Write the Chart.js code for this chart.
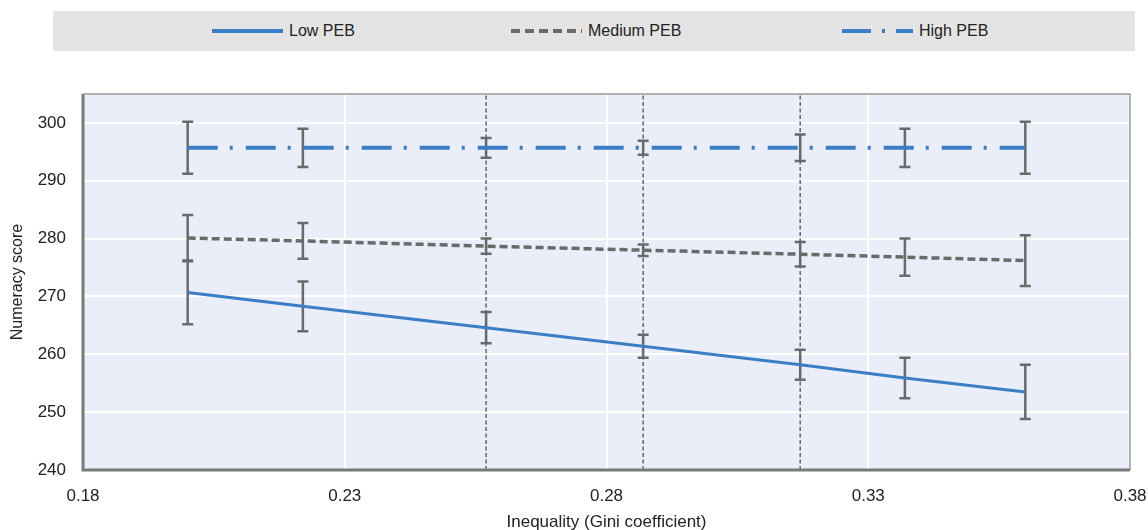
<!DOCTYPE html>
<html>
<head>
<meta charset="utf-8">
<script src="https://cdn.jsdelivr.net/npm/chart.js@4.4.1/dist/chart.umd.min.js"></script>
<style>
  html, body { margin: 0; padding: 0; background: #fff; }
  #wrap { position: relative; width: 1148px; height: 530px; }
  #legend {
    position: absolute; left: 53px; top: 11px; width: 1082px; height: 40px;
    background: #e4e4e4;
    font-family: 'Liberation Sans', Arial, sans-serif;
    font-size: 16px; color: #222;
  }
  .item { position: absolute; top: 0; height: 40px; display: flex; align-items: center; }
  .item svg { margin-right: 6px; }
  canvas { position: absolute; left: 0; top: 0; }
</style>
</head>
<body>
<div id="wrap">
  <div id="legend"></div>
  <canvas id="chart" width="1148" height="530"></canvas>
</div>
<script>
/* ── Numeracy score vs inequality, by parental education background ── */

const FONT = "'Liberation Sans', Arial, sans-serif";

const giniX = [0.200, 0.222, 0.257, 0.287, 0.317, 0.337, 0.360];
const cutoffX = [0.257, 0.287, 0.317];

const lowPEB = [270.7, 268.3, 264.6, 261.4, 258.2, 255.9, 253.5];
const lowErr = [5.5, 4.3, 2.7, 2.0, 2.6, 3.5, 4.7];

const mediumPEB = [280.1, 279.6, 278.7, 278.0, 277.3, 276.8, 276.2];
const mediumErr = [4.0, 3.1, 1.3, 1.0, 2.1, 3.2, 4.4];

const highPEB = [295.7, 295.7, 295.7, 295.7, 295.7, 295.7, 295.7];
const highErr = [4.5, 3.3, 1.7, 1.2, 2.3, 3.3, 4.5];

const seriesNames = ['Low PEB', 'Medium PEB', 'High PEB'];
const xTicks = [0.18, 0.23, 0.28, 0.33, 0.38];
const yTicks = [240, 250, 260, 270, 280, 290, 300];

const BLUE = '#3b7dc6';
const GREY = '#6a6a6a';

const styles = [
  { color: BLUE, width: 3, dash: [] },
  { color: GREY, width: 3.5, dash: [8, 4] },
  { color: BLUE, width: 4, dash: [30, 12, 3, 13] },
];

const toPts = ys => giniX.map((x, i) => ({ x, y: ys[i] }));

// legend (html, real text)
const legendPos = [159, 458, 789];
const legend = document.getElementById('legend');
seriesNames.forEach((name, i) => {
  const st = styles[i];
  const el = document.createElement('div');
  el.className = 'item';
  el.style.left = legendPos[i] + 'px';
  const dash = i === 1 ? '9 5' : i === 2 ? '29 11 3 11' : 'none';
  el.innerHTML =
    `<svg width="71" height="8"><line x1="0" y1="4" x2="71" y2="4" stroke="${st.color}" ` +
    `stroke-width="4" stroke-dasharray="${dash}"/></svg><span>${name}</span>`;
  legend.appendChild(el);
});

const plotFrame = {
  id: 'plotFrame',
  beforeDraw(chart) {
    const { ctx, chartArea: a } = chart;
    ctx.save();
    ctx.fillStyle = '#e9eef8';
    ctx.fillRect(a.left, a.top, a.right - a.left, a.bottom - a.top);
    ctx.restore();
  },
  afterDraw(chart) {
    const { ctx, chartArea: a } = chart;
    ctx.save();
    ctx.strokeStyle = '#9a9a9a';
    ctx.lineWidth = 1.5;
    ctx.beginPath();
    ctx.moveTo(a.left, a.top); ctx.lineTo(a.right, a.top); ctx.lineTo(a.right, a.bottom);
    ctx.stroke();
    ctx.strokeStyle = '#7a7a7a';
    ctx.lineWidth = 3;
    ctx.beginPath();
    ctx.moveTo(a.left, a.top); ctx.lineTo(a.left, a.bottom); ctx.lineTo(a.right, a.bottom);
    ctx.stroke();
    ctx.restore();
  },
};

const errorBars = {
  id: 'errorBars',
  beforeDatasetsDraw(chart) {
    const { ctx, scales: { x, y } } = chart;
    const sets = [[lowPEB, lowErr], [mediumPEB, mediumErr], [highPEB, highErr]];
    ctx.save();
    ctx.strokeStyle = GREY;
    ctx.lineWidth = 2.5;
    sets.forEach(([vals, errs]) => {
      vals.forEach((v, i) => {
        const px = x.getPixelForValue(giniX[i]);
        const top = y.getPixelForValue(v + errs[i]);
        const bot = y.getPixelForValue(v - errs[i]);
        ctx.beginPath();
        ctx.moveTo(px, top); ctx.lineTo(px, bot);
        ctx.moveTo(px - 5.5, top); ctx.lineTo(px + 5.5, top);
        ctx.moveTo(px - 5.5, bot); ctx.lineTo(px + 5.5, bot);
        ctx.stroke();
      });
    });
    ctx.restore();
  },
};

const cutoffSets = cutoffX.map(cx => ({
  data: [{ x: cx, y: 240 }, { x: cx, y: 305 }],
  borderColor: '#666666',
  borderWidth: 1.5,
  borderDash: [4, 2.5],
  pointRadius: 0,
  showLine: true,
  order: 10,
}));

const seriesSets = [lowPEB, mediumPEB, highPEB].map((vals, i) => ({
  label: seriesNames[i],
  data: toPts(vals),
  borderColor: styles[i].color,
  borderWidth: styles[i].width,
  borderDash: styles[i].dash,
  pointRadius: 0,
  showLine: true,
  tension: 0,
  order: i,
}));

new Chart(document.getElementById('chart'), {
  type: 'scatter',
  data: { datasets: [...cutoffSets, ...seriesSets] },
  options: {
    responsive: false,
    animation: false,
    layout: { padding: { top: 94, right: 0, left: 0, bottom: 0 } },
    plugins: { legend: { display: false }, tooltip: { enabled: false } },
    scales: {
      x: {
        type: 'linear', min: 0.18, max: 0.38,
        afterBuildTicks: s => { s.ticks = xTicks.map(value => ({ value })); },
        afterFit: s => { s.height = 60; s.paddingRight = 18; },
        grid: { color: '#ffffff', lineWidth: 2, drawTicks: false },
        border: { display: false },
        ticks: {
          padding: 16, color: '#222',
          font: { family: FONT, size: 17 },
          callback: v => v.toFixed(2),
        },
        title: {
          display: true, text: 'Inequality (Gini coefficient)', color: '#222',
          font: { family: FONT, size: 17 }, padding: { top: 2, bottom: -3 },
        },
      },
      y: {
        type: 'linear', min: 240, max: 305,
        afterBuildTicks: s => { s.ticks = yTicks.map(value => ({ value })); },
        afterFit: s => { s.width = 83; },
        grid: { color: '#ffffff', lineWidth: 2, drawTicks: false },
        border: { display: false },
        ticks: {
          padding: 17, color: '#222',
          font: { family: FONT, size: 17 },
        },
        title: {
          display: true, text: 'Numeracy score', color: '#222',
          font: { family: FONT, size: 16 }, padding: { top: 8, bottom: 0 },
        },
      },
    },
  },
  plugins: [plotFrame, errorBars],
});
</script>
</body>
</html>
